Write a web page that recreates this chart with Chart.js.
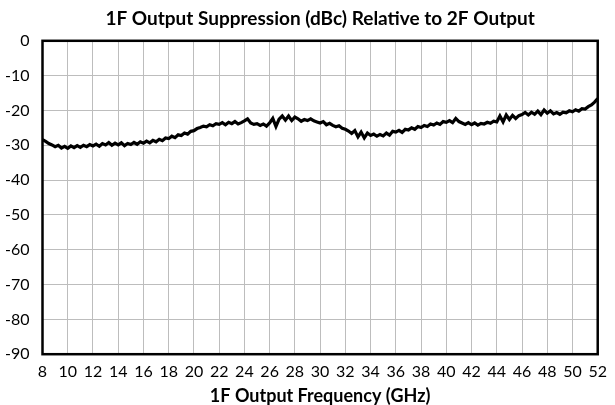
<!DOCTYPE html>
<html>
<head>
<meta charset="utf-8">
<script src="https://cdn.jsdelivr.net/npm/chart.js@4.4.1/dist/chart.umd.min.js"></script>
<style>
html,body{margin:0;padding:0;background:#fff;}
#wrap{width:615px;height:405px;}
</style>
</head>
<body>
<div id="wrap"><canvas id="c" width="615" height="405"></canvas></div>
<script>
const chartTitle = "1F Output Suppression (dBc) Relative to 2F Output";
const xTitle = "1F Output Frequency (GHz)";
const xTicks = [8,10,12,14,16,18,20,22,24,26,28,30,32,34,36,38,40,42,44,46,48,50,52];
const yTicks = [0,-10,-20,-30,-40,-50,-60,-70,-80,-90];

const freqGHz = [
 8.00, 8.25, 8.50, 8.75, 9.00, 9.25, 9.50, 9.75,10.00,10.25,10.50,10.75,
11.00,11.25,11.50,11.75,12.00,12.25,12.50,12.75,13.00,13.25,13.50,13.75,
14.00,14.25,14.50,14.75,15.00,15.25,15.50,15.75,16.00,16.25,16.50,16.75,
17.00,17.25,17.50,17.75,18.00,18.25,18.50,18.75,19.00,19.25,19.50,19.75,
20.00,20.25,20.50,20.75,21.00,21.25,21.50,21.75,22.00,22.25,22.50,22.75,
23.00,23.25,23.50,23.75,24.00,24.25,24.50,24.75,25.00,25.25,25.50,25.75,
26.00,26.25,26.50,26.75,27.00,27.25,27.50,27.75,28.00,28.25,28.50,28.75,
29.00,29.25,29.50,29.75,30.00,30.25,30.50,30.75,31.00,31.25,31.50,31.75,
32.00,32.25,32.50,32.75,33.00,33.25,33.50,33.75,34.00,34.25,34.50,34.75,
35.00,35.25,35.50,35.75,36.00,36.25,36.50,36.75,37.00,37.25,37.50,37.75,
38.00,38.25,38.50,38.75,39.00,39.25,39.50,39.75,40.00,40.25,40.50,40.75,
41.00,41.25,41.50,41.75,42.00,42.25,42.50,42.75,43.00,43.25,43.50,43.75,
44.00,44.25,44.50,44.75,45.00,45.25,45.50,45.75,46.00,46.25,46.50,46.75,
47.00,47.25,47.50,47.75,48.00,48.25,48.50,48.75,49.00,49.25,49.50,49.75,
50.00,50.25,50.50,50.75,51.00,51.25,51.50,51.75,52.00
];

const suppressionDBc = [
-28.4,-28.9,-29.5,-29.9, -30.4,-30.0,-30.8,-30.3, -30.9,-30.2,-30.7,-30.1,
-30.6,-30.0,-30.4,-29.8, -30.2,-29.7,-30.3,-29.5, -29.9,-29.2,-30.0,-29.4,
-29.9,-29.3,-30.1,-29.5, -29.8,-29.2,-29.7,-29.0, -29.4,-28.8,-29.3,-28.6,
-29.0,-28.3,-28.7,-27.9, -28.1,-27.4,-27.8,-27.0, -27.2,-26.5,-26.8,-26.0,
-25.8,-25.2,-24.9,-24.5, -24.7,-24.1,-24.4,-23.8, -24.0,-23.5,-24.1,-23.4,
-23.8,-23.2,-23.9,-23.5, -23.0,-22.4,-23.6,-24.0, -23.8,-24.3,-23.9,-24.5,
-23.6,-22.3,-24.6,-22.5, -21.6,-22.8,-21.6,-22.9, -21.9,-22.4,-23.1,-22.6,
-22.9,-22.4,-23.0,-23.3, -23.6,-23.2,-24.1,-23.7, -24.3,-24.7,-24.4,-25.1,
-25.4,-25.9,-26.6,-25.8, -27.6,-26.2,-27.9,-26.5, -27.2,-26.8,-27.4,-26.9,
-27.3,-26.5,-27.1,-26.0, -26.2,-25.7,-26.3,-25.4, -25.6,-25.0,-25.4,-24.6,
-24.9,-24.3,-24.6,-23.9, -24.2,-23.6,-24.0,-23.2, -23.4,-22.9,-23.5,-22.3,
-23.2,-23.6,-24.0,-23.5, -24.1,-23.6,-24.2,-23.7, -23.9,-23.4,-23.7,-23.1,
-23.3,-21.6,-23.3,-21.3, -22.6,-21.4,-22.3,-21.5, -21.2,-20.6,-21.3,-20.5,
-21.1,-20.2,-21.2,-19.9, -20.8,-20.1,-21.0,-20.6, -21.1,-20.5,-20.7,-20.1,
-20.4,-19.8,-20.2,-19.5, -19.6,-18.9,-18.4,-17.6, -16.6
];

const FONT = "Lato, 'Liberation Sans', sans-serif";

const frame = {
  id: 'frame',
  afterDatasetsDraw(chart) {
    const a = chart.chartArea, ctx = chart.ctx;
    ctx.save();
    ctx.strokeStyle = '#000';
    ctx.lineWidth = 2.5;
    ctx.strokeRect(a.left, a.top, a.right - a.left, a.bottom - a.top);
    ctx.restore();
  }
};

new Chart(document.getElementById('c'), {
  type: 'line',
  data: {
    datasets: [{
      data: freqGHz.map((f, i) => ({x: f, y: suppressionDBc[i]})),
      borderColor: '#000',
      borderWidth: 3.2,
      pointRadius: 0,
      tension: 0,
      fill: false
    }]
  },
  options: {
    responsive: false,
    animation: false,
    layout: {padding: {left: -8, right: 8, top: 0, bottom: -2}},
    plugins: {
      legend: {display: false},
      tooltip: {enabled: false},
      title: {
        display: true,
        fullSize: false,
        text: chartTitle,
        color: '#000',
        font: {family: FONT, size: 19, weight: 'bold'},
        padding: {top: 7, bottom: 11}
      }
    },
    scales: {
      x: {
        type: 'linear',
        min: 8, max: 52,
        afterBuildTicks: s => { s.ticks = xTicks.map(v => ({value: v})); },
        ticks: {color: '#000', font: {family: FONT, size: 16}, padding: 8, maxRotation: 0},
        grid: {color: '#bdbdbd', lineWidth: 1, drawTicks: false},
        border: {display: false},
        title: {display: true, text: xTitle, color: '#000', font: {family: FONT, size: 18, weight: 'bold'}, padding: {top: -4, bottom: 0}}
      },
      y: {
        type: 'linear',
        min: -90, max: 0,
        afterBuildTicks: s => { s.ticks = yTicks.map(v => ({value: v})); },
        ticks: {color: '#000', font: {family: FONT, size: 16}, padding: 13},
        grid: {color: '#bdbdbd', lineWidth: 1, drawTicks: false},
        border: {display: false}
      }
    }
  },
  plugins: [frame]
});
</script>
</body>
</html>
